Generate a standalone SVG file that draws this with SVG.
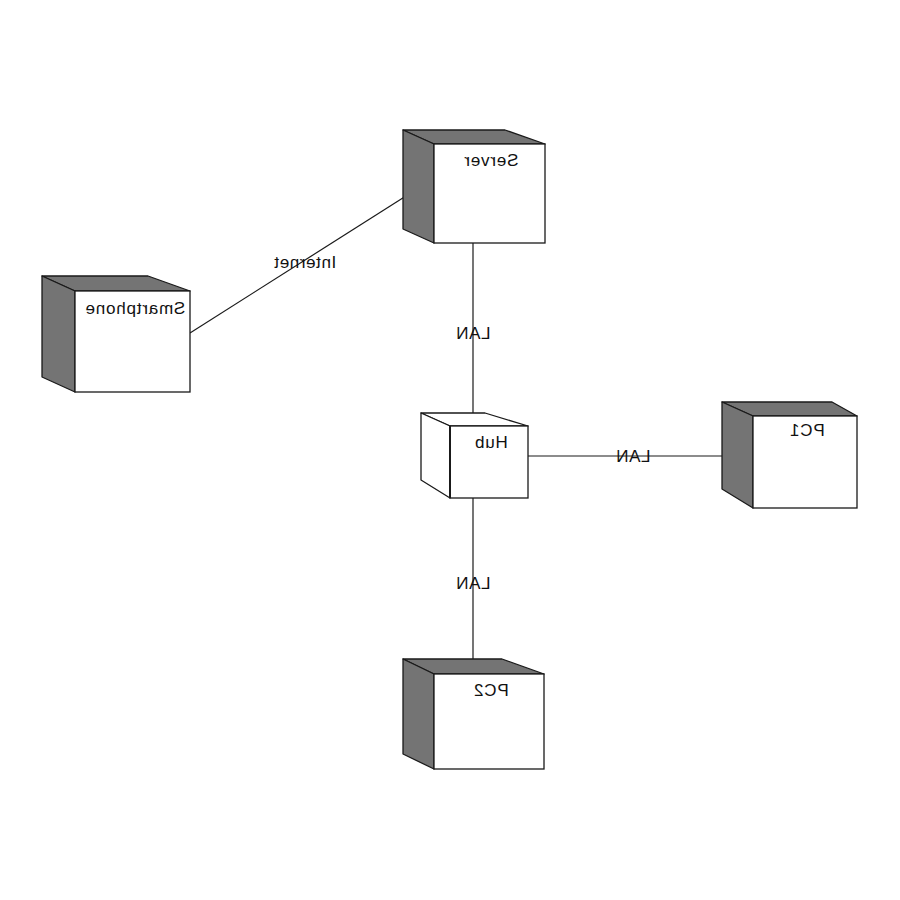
<svg xmlns="http://www.w3.org/2000/svg" width="900" height="900" viewBox="0 0 900 900">
  <style>
    .face { fill: #ffffff; stroke: #1a1a1a; stroke-width: 1.3; }
    .shade { fill: #747474; stroke: #1a1a1a; stroke-width: 1.3; stroke-linejoin: round; }
    .plain { fill: #ffffff; stroke: #1a1a1a; stroke-width: 1.3; stroke-linejoin: round; }
    .edge { stroke: #1a1a1a; stroke-width: 1.2; fill: none; }
    .name { font-family: "Liberation Sans", Arial, sans-serif; font-size: 17px; letter-spacing: 0.8px; fill: #111; text-anchor: middle; }
    .lbl { font-family: "Liberation Sans", Arial, sans-serif; font-size: 17px; letter-spacing: 0.6px; fill: #111; text-anchor: middle; }
  </style>
  <rect width="900" height="900" fill="#ffffff"/>

  <!-- connectors -->
  <g id="connectors">
    <line class="edge" x1="190" y1="333" x2="417" y2="189"/>
    <line class="edge" x1="473" y1="243" x2="473" y2="418"/>
    <line class="edge" x1="528" y1="456" x2="738" y2="456"/>
    <line class="edge" x1="473" y1="498" x2="473" y2="667"/>
    <text class="lbl" x="-305" y="268" transform="scale(-1,1)">Internet</text>
    <text class="lbl" x="-473" y="339" transform="scale(-1,1)">LAN</text>
    <text class="lbl" x="-633" y="462" transform="scale(-1,1)">LAN</text>
    <text class="lbl" x="-473" y="589" transform="scale(-1,1)">LAN</text>
  </g>

  <!-- Server -->
  <g id="server">
    <polygon class="shade" points="403,130 505,130 545,144 434,144"/>
    <polygon class="shade" points="403,130 434,144 434,243 403,229"/>
    <rect class="face" x="434" y="144" width="111" height="99"/>
    <text class="name" x="-491" y="166" transform="scale(-1,1)">Server</text>
  </g>

  <!-- Smartphone -->
  <g id="smartphone">
    <polygon class="shade" points="42,276 148,276 190,291 75,291"/>
    <polygon class="shade" points="42,276 75,291 75,392 42,377"/>
    <rect class="face" x="75" y="291" width="115" height="101"/>
    <text class="name" x="-135" y="314" transform="scale(-1,1)">Smartphone</text>
  </g>

  <!-- Hub -->
  <g id="hub">
    <polygon class="plain" points="421,413 485,413 528,426 450,426"/>
    <polygon class="plain" points="421,413 450,426 450,498 421,480"/>
    <rect class="face" x="450" y="426" width="78" height="72"/>
    <line x1="450" y1="426" x2="450" y2="498" stroke="#1a1a1a" stroke-width="2"/>
    <text class="name" x="-491" y="448" transform="scale(-1,1)">Hub</text>
  </g>

  <!-- PC1 -->
  <g id="pc1">
    <polygon class="shade" points="722,402 832,402 857,416 753,416"/>
    <polygon class="shade" points="722,402 753,416 753,508 722,489"/>
    <rect class="face" x="753" y="416" width="104" height="92"/>
    <text class="name" x="-807" y="436" transform="scale(-1,1)">PC1</text>
  </g>

  <!-- PC2 -->
  <g id="pc2">
    <polygon class="shade" points="403,659 502,659 544,674 434,674"/>
    <polygon class="shade" points="403,659 434,674 434,769 403,754"/>
    <rect class="face" x="434" y="674" width="110" height="95"/>
    <text class="name" x="-491" y="696" transform="scale(-1,1)">PC2</text>
  </g>
</svg>
